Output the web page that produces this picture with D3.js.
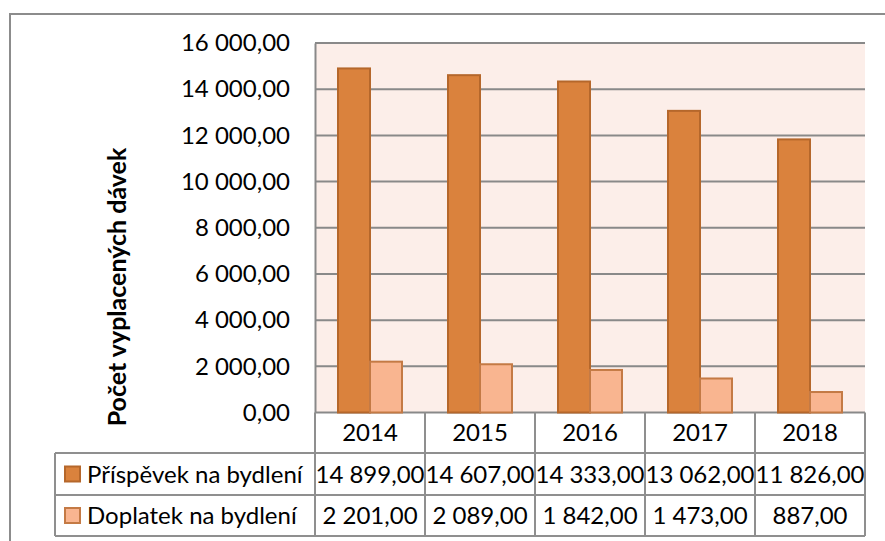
<!DOCTYPE html>
<html>
<head>
<meta charset="utf-8">
<script src="https://cdn.jsdelivr.net/npm/d3@7"></script>
<style>
  html, body { margin: 0; padding: 0; background: #fff; }
  svg { display: block; font-family: Lato, "Open Sans", sans-serif; }
</style>
</head>
<body>
<svg id="chart" width="885" height="541"></svg>
<script>
// Data
const years = ["2014", "2015", "2016", "2017", "2018"];
const seriesNames = ["Příspěvek na bydlení", "Doplatek na bydlení"];
const prispevek = [14899, 14607, 14333, 13062, 11826];
const doplatek = [2201, 2089, 1842, 1473, 887];
const yTicks = [0, 2000, 4000, 6000, 8000, 10000, 12000, 14000, 16000];
const axisTitle = "Počet vyplacených dávek";

const seriesValues = [prispevek, doplatek];
const fills = ["#DA823D", "#F9B590"];
const strokes = ["#B5672B", "#C47A45"];

const svg = d3.select("#chart");

// Czech number format: space as thousands separator, comma as decimal mark
const cz = d3.formatLocale({ decimal: ",", thousands: " ", grouping: [3], currency: ["", ""] });
const fmt = cz.format(",.2f");

const fontSize = 24;
const plot = { left: 315, right: 865, top: 43, bottom: 412.5 };

const x = d3.scaleBand().domain(years).range([plot.left, plot.right]).paddingInner(0).paddingOuter(0);
const y = d3.scaleLinear().domain([0, 16000]).range([plot.bottom, plot.top]);

// Outer chart frame (only top and left edges fall inside the page)
svg.append("rect")
  .attr("x", 10).attr("y", 14).attr("width", 900).attr("height", 560)
  .attr("fill", "none").attr("stroke", "#8c8c8c").attr("stroke-width", 2);

// Plot area background
svg.append("rect")
  .attr("x", plot.left).attr("y", plot.top)
  .attr("width", plot.right - plot.left).attr("height", plot.bottom - plot.top)
  .attr("fill", "#FCEEE9");

// Gridlines
svg.append("g").selectAll("line")
  .data(yTicks)
  .join("line")
  .attr("x1", plot.left).attr("x2", plot.right)
  .attr("y1", d => y(d)).attr("y2", d => y(d))
  .attr("stroke", "#898989").attr("stroke-width", 2);

// Y axis with tick labels
const yAxis = svg.append("g")
  .attr("transform", `translate(${plot.left},0)`)
  .call(d3.axisLeft(y).tickValues(yTicks).tickSize(0).tickPadding(25).tickFormat(fmt));
yAxis.select(".domain").attr("stroke", "#898989").attr("stroke-width", 2);
yAxis.selectAll("text")
  .attr("font-family", "Lato, sans-serif")
  .attr("font-size", fontSize)
  .attr("fill", "#000");

// Bars
const barW = 32;
const groupOffset = (x.bandwidth() - 2 * barW) / 2;
seriesValues.forEach((vals, si) => {
  svg.append("g").selectAll("rect")
    .data(vals)
    .join("rect")
    .attr("x", (d, i) => x(years[i]) + groupOffset + si * barW)
    .attr("y", d => y(d))
    .attr("width", barW)
    .attr("height", d => y(0) - y(d))
    .attr("fill", fills[si])
    .attr("stroke", strokes[si])
    .attr("stroke-width", 2);
});

// Axis title
svg.append("text")
  .attr("transform", "translate(126,287) rotate(-90)")
  .attr("text-anchor", "middle")
  .attr("font-size", 25)
  .attr("font-weight", "bold")
  .attr("fill", "#000")
  .text(axisTitle);

// Data table beneath the plot
const rowTops = [plot.bottom, 453, 495, 536];
const tableLeft = 55;
const lineColor = "#8f8f8f";
const table = svg.append("g");

// Year header row
table.append("g").selectAll("text")
  .data(years)
  .join("text")
  .attr("x", d => x(d) + x.bandwidth() / 2)
  .attr("y", (rowTops[0] + rowTops[1]) / 2)
  .attr("dy", "0.36em")
  .attr("text-anchor", "middle")
  .attr("font-size", fontSize)
  .text(d => d);

// Value rows
seriesValues.forEach((vals, si) => {
  const cy = (rowTops[si + 1] + rowTops[si + 2]) / 2;
  table.append("g").selectAll("text")
    .data(vals)
    .join("text")
    .attr("x", (d, i) => x(years[i]) + x.bandwidth() / 2)
    .attr("y", cy)
    .attr("dy", "0.36em")
    .attr("text-anchor", "middle")
    .attr("font-size", fontSize)
    .text(d => fmt(d));

  // Legend key
  table.append("rect")
    .attr("x", 65).attr("y", cy - 7.5)
    .attr("width", 15).attr("height", 15)
    .attr("fill", fills[si]).attr("stroke", strokes[si]).attr("stroke-width", 2);

  table.append("text")
    .attr("x", 87).attr("y", cy)
    .attr("dy", "0.36em")
    .attr("font-size", fontSize)
    .text(seriesNames[si]);
});

// Table grid lines
const hLines = [
  [tableLeft, plot.right, rowTops[1]],
  [tableLeft, plot.right, rowTops[2]],
  [tableLeft, plot.right, rowTops[3]]
];
table.append("g").selectAll("line")
  .data(hLines)
  .join("line")
  .attr("x1", d => d[0]).attr("x2", d => d[1])
  .attr("y1", d => d[2]).attr("y2", d => d[2])
  .attr("stroke", lineColor).attr("stroke-width", 2);

const colEdges = years.map(d => x(d)).concat([plot.right]);
table.append("g").selectAll("line")
  .data(colEdges)
  .join("line")
  .attr("x1", d => d).attr("x2", d => d)
  .attr("y1", rowTops[0]).attr("y2", rowTops[3])
  .attr("stroke", lineColor).attr("stroke-width", 2);

table.append("line")
  .attr("x1", tableLeft).attr("x2", tableLeft)
  .attr("y1", rowTops[1]).attr("y2", rowTops[3])
  .attr("stroke", lineColor).attr("stroke-width", 2);
</script>
</body>
</html>
